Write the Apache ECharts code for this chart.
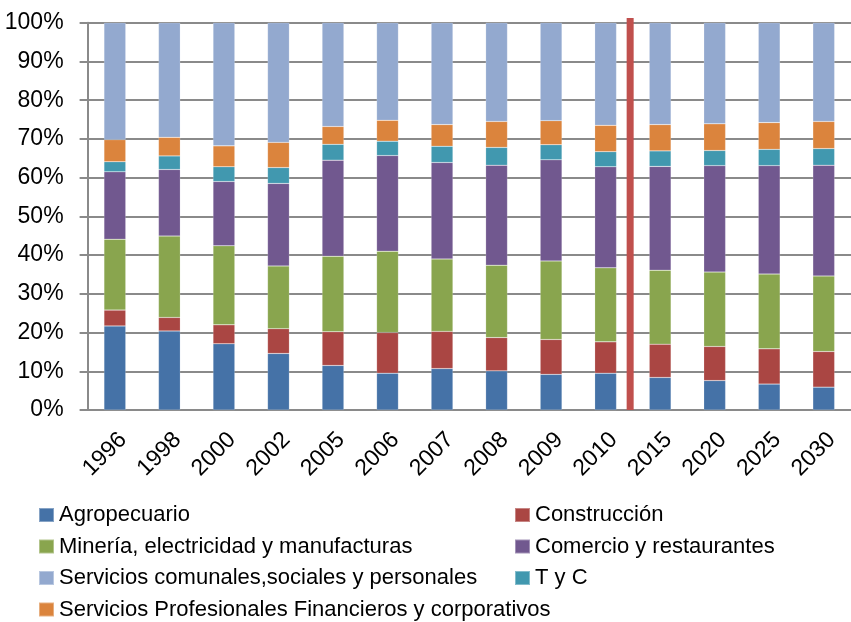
<!DOCTYPE html>
<html>
<head>
<meta charset="utf-8">
<script src="https://cdn.jsdelivr.net/npm/echarts@6/dist/echarts.min.js"></script>
<style>
  html, body { margin: 0; padding: 0; background: #fff; }
  #chart { width: 851px; height: 622px; }
</style>
</head>
<body>
<div id="chart"></div>
<script>
// años del eje x
const years = ['1996', '1998', '2000', '2002', '2005', '2006', '2007', '2008', '2009', '2010', '2015', '2020', '2025', '2030']

// participación por sector (%), de abajo hacia arriba en la pila
const agropecuario = [21.7, 20.4, 17.1, 14.6, 11.5, 9.5, 10.7, 10.1, 9.2, 9.5, 8.4, 7.6, 6.7, 5.9]
const construccion = [4.1, 3.5, 4.9, 6.4, 8.7, 10.5, 9.6, 8.6, 9.0, 8.1, 8.6, 8.8, 9.1, 9.2]
const mineria = [18.3, 21.0, 20.4, 16.2, 19.5, 21.0, 18.7, 18.7, 20.3, 19.1, 19.1, 19.2, 19.3, 19.5]
const comercio = [17.4, 17.2, 16.6, 21.3, 24.8, 24.7, 24.9, 25.8, 26.1, 26.1, 26.8, 27.5, 28.0, 28.6]
const tyc = [2.6, 3.5, 3.8, 4.1, 4.1, 3.7, 4.2, 4.6, 3.9, 3.9, 4.0, 3.9, 4.2, 4.3]
const profesionales = [5.7, 4.8, 5.4, 6.5, 4.6, 5.4, 5.6, 6.7, 6.2, 6.8, 6.8, 6.9, 6.9, 7.0]
const comunales = [30.2, 29.6, 31.8, 30.9, 26.8, 25.2, 26.3, 25.5, 25.3, 26.5, 26.3, 26.1, 25.8, 25.5]

// orden de la leyenda (dos columnas, fila por fila)
const legendNames = [
  'Agropecuario', 'Construcción',
  'Minería, electricidad y manufacturas', 'Comercio y restaurantes',
  'Servicios comunales,sociales y personales', 'T y C',
  'Servicios Profesionales Financieros y corporativos'
]

// separador entre datos históricos y proyección (posición en categorías)
const separadorX = 9.95
const separadorTop = 101.2

const font = 'Liberation Sans'
const gridColor = '#8a8a8a'

let myChart = echarts.init(document.getElementById('chart'))

function barSeries (name, data, color) {
  return {
    name: name, type: 'bar', stack: 'total', data: data,
    barCategoryGap: '60%',
    itemStyle: {color: color, borderColor: 'rgba(255,255,255,0.35)', borderWidth: 0.5}
  }
}

// una leyenda por elemento para ubicar las dos columnas a mano
const legends = legendNames.map((name, i) => {
  const col = i % 2
  const row = Math.floor(i / 2)
  return {
    data: [name], left: col ? 514 : 38, top: 503 + row * 31.5, padding: 0,
    itemWidth: 15, itemHeight: 14, icon: 'rect',
    textStyle: {fontFamily: font, fontSize: 22, color: '#000', lineHeight: 24}
  }
})

let option = {
  animation: false,
  grid: {left: 87.6, top: 22.7, width: 768, height: 387.3},
  legend: legends,
  xAxis: [
    {
      type: 'category', data: years,
      axisLine: {lineStyle: {color: gridColor, width: 2}},
      axisTick: {inside: true, length: 7, lineStyle: {color: gridColor, width: 2}},
      axisLabel: {
        rotate: 45, margin: 18, verticalAlign: 'top', interval: 0,
        fontFamily: font, fontSize: 23, color: '#000'
      }
    },
    {type: 'value', min: 0, max: 14, show: false}
  ],
  yAxis: {
    type: 'value', min: 0, max: 100, interval: 10,
    axisLine: {show: true, lineStyle: {color: gridColor, width: 2}},
    axisTick: {show: true, length: 8, lineStyle: {color: gridColor, width: 2}},
    splitLine: {lineStyle: {color: gridColor, width: 2}},
    axisLabel: {formatter: '{value}%', margin: 24, fontFamily: font, fontSize: 23, color: '#000'}
  },
  series: [
    barSeries('Agropecuario', agropecuario, '#4572A7'),
    barSeries('Construcción', construccion, '#AA4643'),
    barSeries('Minería, electricidad y manufacturas', mineria, '#89A54E'),
    barSeries('Comercio y restaurantes', comercio, '#71588F'),
    barSeries('T y C', tyc, '#4198AF'),
    barSeries('Servicios Profesionales Financieros y corporativos', profesionales, '#DB843D'),
    barSeries('Servicios comunales,sociales y personales', comunales, '#93A9CF'),
    {
      name: 'separador', type: 'line', xAxisIndex: 1, clip: false, z: 5,
      symbol: 'none', silent: true,
      lineStyle: {color: '#C0504D', width: 7},
      data: [[separadorX, 0], [separadorX, separadorTop]]
    }
  ]
}
myChart.setOption(option)
</script>
</body>
</html>
